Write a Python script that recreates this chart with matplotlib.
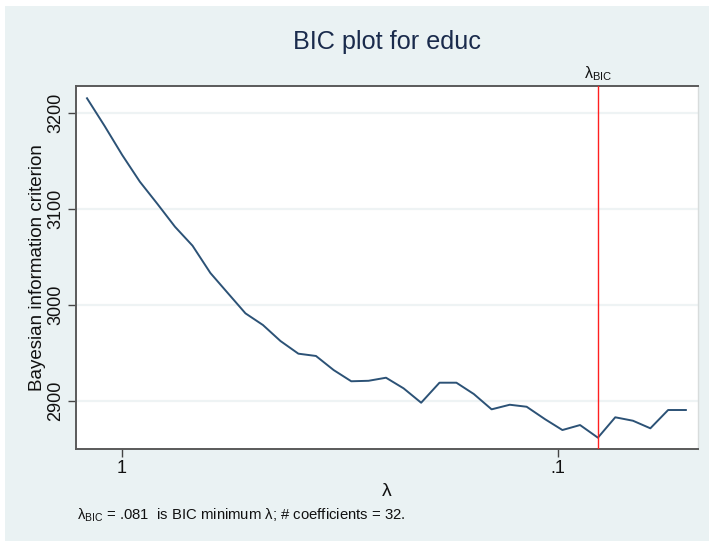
import matplotlib
matplotlib.use("Agg")
import matplotlib.pyplot as plt
from matplotlib.patches import Rectangle
from matplotlib.ticker import FixedLocator, FixedFormatter, NullLocator

# lambda grid and BIC values
lambdas = [1.203, 1.096, 0.999, 0.910, 0.829, 0.756, 0.689, 0.627, 0.572, 0.521,
           0.475, 0.433, 0.394, 0.359, 0.327, 0.298, 0.272, 0.248, 0.226, 0.206,
           0.187, 0.171, 0.156, 0.142, 0.129, 0.118, 0.107, 0.0977, 0.0890, 0.081,
           0.0739, 0.0673, 0.0614, 0.0559, 0.0509]
bic = [3215.7, 3186.7, 3156.5, 3128.6, 3105.3, 3081.6, 3061.8, 3033.3, 3012.4, 2991.2,
       2979.0, 2962.3, 2949.1, 2946.7, 2932.0, 2920.3, 2920.8, 2924.0, 2912.9, 2897.9,
       2918.8, 2918.8, 2907.0, 2891.0, 2895.8, 2893.7, 2880.6, 2869.4, 2874.6, 2861.4,
       2882.7, 2879.1, 2871.2, 2890.3, 2890.3]
lambda_bic = 0.081
y_ticks = [2900, 3000, 3100, 3200]
x_ticks = [1, 0.1]
x_ticklabels = ["1", ".1"]

bg = "#eaf2f3"
navy = "#1a2b4c"
plt.rcParams['font.family'] = ['Liberation Sans', 'DejaVu Sans']
plt.rcParams['mathtext.default'] = 'regular'

fig = plt.figure(figsize=(7.11, 5.41), dpi=100, facecolor="white")
W, H = 711, 541
fig.patches.append(Rectangle((5 / W, 0), 704 / W, 535 / H, transform=fig.transFigure,
                             facecolor=bg, edgecolor="none", zorder=-10))

ax = fig.add_axes([75.7 / W, 92 / H, 622.3 / W, 363 / H])
ax.set_zorder(5)
ax.set_facecolor("white")
ax.set_xscale("log")
ax.set_xlim(1.277, 0.04774)
ax.set_ylim(2849.6, 3228.5)

for yt in y_ticks:
    ax.axhline(yt, color="#eef3f4", lw=1.6, zorder=1)

ax.plot(lambdas, bic, color="#2c5276", lw=1.4, zorder=3)
ax.axvline(lambda_bic, color="#ff2020", lw=1.0, zorder=4)

ax.xaxis.set_major_locator(FixedLocator(x_ticks))
ax.xaxis.set_major_formatter(FixedFormatter(x_ticklabels))
ax.xaxis.set_minor_locator(NullLocator())
ax.set_yticks(y_ticks)
ax.set_yticklabels([str(v) for v in y_ticks], rotation=90, va="center")
ax.tick_params(axis="both", direction="out", length=6, width=1.0, color="#444444",
               labelsize=13, labelcolor="#111111", pad=2)

for side in ["left", "bottom", "top"]:
    ax.spines[side].set_color("#5a5a5a")
    ax.spines[side].set_linewidth(1.4)
ax.spines["right"].set_color("#d8dcdc")
ax.spines["right"].set_linewidth(1.0)

ax.set_ylabel("Bayesian information criterion", fontsize=13.5, color="#111111", labelpad=1.5)
ax.set_xlabel("λ", fontsize=14, color="#111111", labelpad=4)

fig.text(387 / W, 1 - 42 / H, "BIC plot for educ", ha="center", va="center",
         fontsize=18.2, color=navy)
ax.text(lambda_bic, 1.008, "λ$_{BIC}$", transform=ax.get_xaxis_transform(),
        ha="center", va="bottom", fontsize=11.5, color="#111111")
fig.text(77 / W, 1 - 515 / H, "λ$_{BIC}$ = .081  is BIC minimum λ; # coefficients = 32.",
         ha="left", va="center", fontsize=10.7, color="#111111")

fig.savefig("out.png", dpi=100, facecolor="white")
